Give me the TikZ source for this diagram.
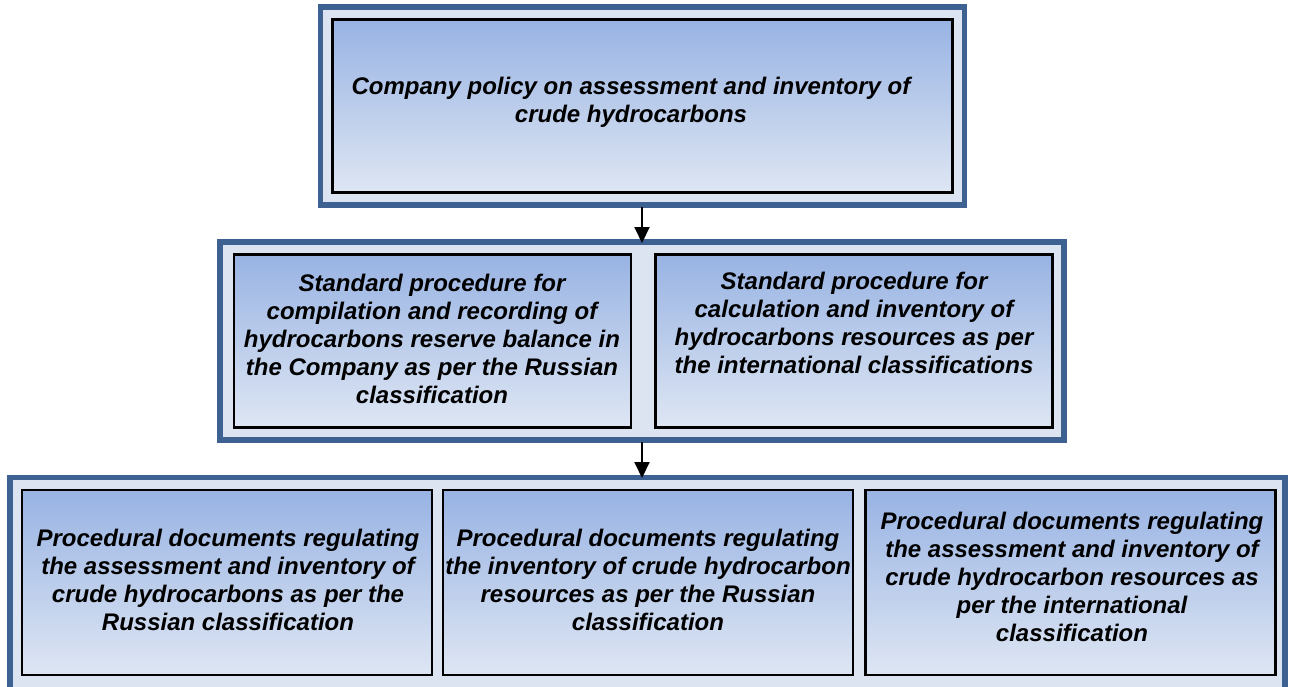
\documentclass[tikz,border=0pt]{standalone}
\usepackage{fontspec}
\setmainfont{Liberation Sans}
\usetikzlibrary{arrows.meta}
\definecolor{frameblue}{HTML}{3D6191}
\definecolor{framefill}{HTML}{DCE4F1}
\definecolor{gtop}{HTML}{98B3E3}
\definecolor{gbot}{HTML}{DEE6F3}
\begin{document}
\begin{tikzpicture}[x=1pt,y=-1pt,
  frame/.style={draw=frameblue, line width=5.5pt, fill=framefill, rectangle, inner sep=0pt},
  inbox/.style={draw=black, line width=2.3pt, rectangle, inner sep=0pt, top color=gtop, bottom color=gbot},
  lbl/.style={align=center, font=\fontsize{24}{27.8}\selectfont\bfseries\itshape, inner sep=0pt},
  arr/.style={line width=2pt, -{Triangle[length=16pt,width=15pt]}}]
\useasboundingbox (0,0) rectangle (1289,686);
\clip (0,0) rectangle (1289,686);
% frames
\node[frame, minimum width=644pt, minimum height=198pt] (f1) at (642.5,106) {};
\node[frame, minimum width=844pt, minimum height=198pt] (f2) at (642,341) {};
\node[frame, minimum width=1275pt, minimum height=240pt] (f3) at (647.5,597.5) {};
% inner boxes
\node[inbox, minimum width=620pt, minimum height=173pt] (b1) at (642.5,106) {};
\node[inbox, minimum width=397pt, minimum height=173pt] (b21) at (432.5,341) {};
\node[inbox, minimum width=397pt, minimum height=173pt] (b22) at (854,341) {};
\node[inbox, minimum width=410pt, minimum height=185pt] (b31) at (227,582.5) {};
\node[inbox, minimum width=410pt, minimum height=185pt] (b32) at (648,582.5) {};
\node[inbox, minimum width=410pt, minimum height=185pt] (b33) at (1070.5,582.5) {};
% labels
\node[lbl] (t1) at (631,102) {Company policy on assessment and inventory of\\crude hydrocarbons};
\node[lbl] (t21) at (432,339) {Standard procedure for\\compilation and recording of\\hydrocarbons reserve balance in\\the Company as per the Russian\\classification};
\node[lbl] (t22) at (854,323) {Standard procedure for\\calculation and inventory of\\hydrocarbons resources as per\\the international classifications};
\node[lbl] (t31) at (228,580) {Procedural documents regulating\\the assessment and inventory of\\crude hydrocarbons as per the\\Russian classification};
\node[lbl] (t32) at (648,580) {Procedural documents regulating\\the inventory of crude hydrocarbon\\resources as per the Russian\\classification};
\node[lbl] (t33) at (1072,577) {Procedural documents regulating\\the assessment and inventory of\\crude hydrocarbon resources as\\per the international\\classification};
% arrows
\coordinate (a1s) at (642,207);
\coordinate (a1e) at (642,243);
\coordinate (a2s) at (642,442);
\coordinate (a2e) at (642,478);
\draw[arr] (a1s) -- (a1e);
\draw[arr] (a2s) -- (a2e);
\end{tikzpicture}
\end{document}
